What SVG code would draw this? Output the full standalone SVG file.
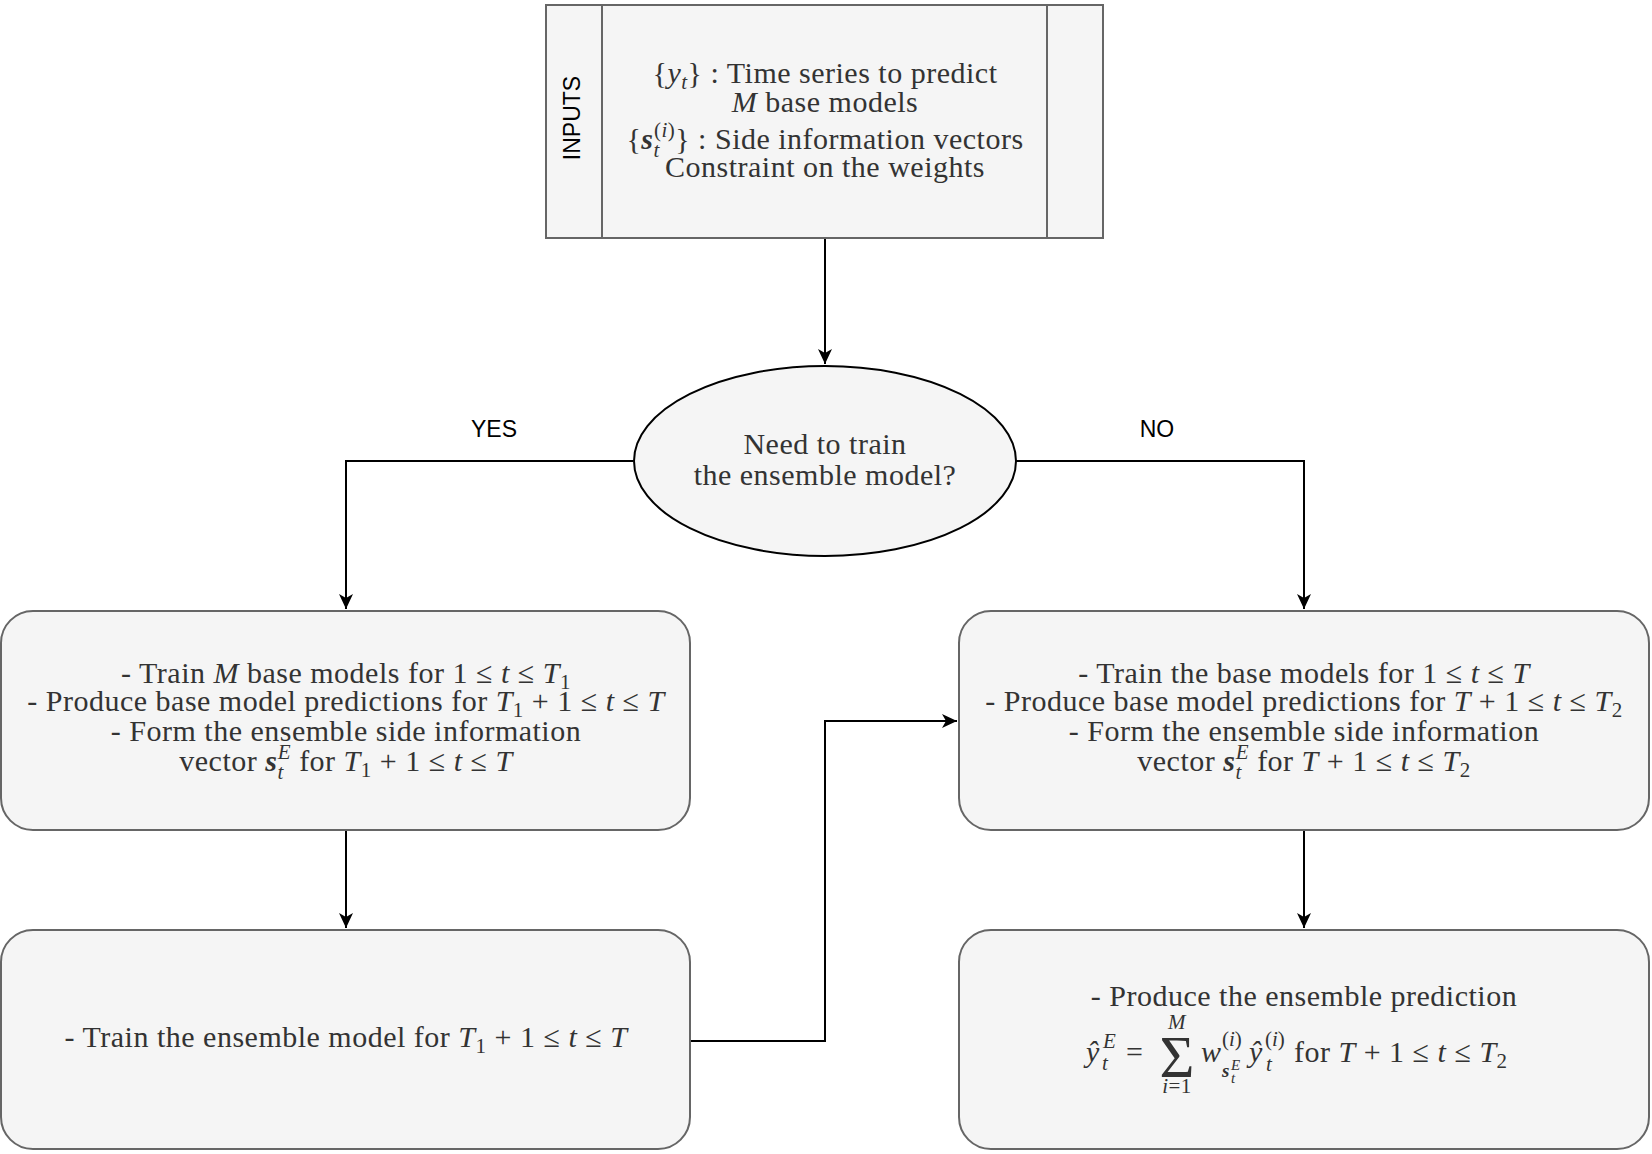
<svg xmlns="http://www.w3.org/2000/svg" width="1652" height="1154" viewBox="0 0 1652 1154">
<style>
.box{fill:#f5f5f5;stroke:#666666;stroke-width:2}
.ell{fill:#f5f5f5;stroke:#000000;stroke-width:2}
.c{fill:none;stroke:#000000;stroke-width:2}
.t{font-family:"Liberation Serif",serif;font-size:30px;fill:#333333;text-anchor:middle;letter-spacing:0.5px}
.st{text-anchor:start;letter-spacing:0}
.l{font-family:"Liberation Sans",sans-serif;font-size:23px;fill:#000000;text-anchor:middle}
.i{font-style:italic}
.b{font-style:italic;font-weight:bold}
.s{font-size:21px}
.ss{font-size:15px}
</style>
<defs>
<marker id="ah" markerUnits="userSpaceOnUse" markerWidth="16" markerHeight="14" refX="15" refY="7" orient="auto">
<path d="M0,0 L15,7 L0,14 L4,7 Z" fill="#000000"/>
</marker>
</defs>
<rect width="1652" height="1154" fill="#ffffff"/>
<g id="connectors">
<path class="c" d="M825,238 L825,364" marker-end="url(#ah)"/>
<path class="c" d="M633,461 L346,461 L346,609" marker-end="url(#ah)"/>
<path class="c" d="M1016,461 L1304,461 L1304,609" marker-end="url(#ah)"/>
<path class="c" d="M346,830 L346,928" marker-end="url(#ah)"/>
<path class="c" d="M1304,830 L1304,928" marker-end="url(#ah)"/>
<path class="c" d="M690,1041 L825,1041 L825,721 L957,721" marker-end="url(#ah)"/>
<text class="l" x="494" y="437">YES</text>
<text class="l" x="1157" y="437">NO</text>
</g>
<g id="inputs">
<rect class="box" x="546" y="5" width="557" height="233"/>
<line class="box" x1="602" y1="5" x2="602" y2="238"/>
<line class="box" x1="1047" y1="5" x2="1047" y2="238"/>
<text class="l" x="0" y="0" transform="translate(580,118) rotate(-90)">INPUTS</text>
<text class="t" x="825" y="83">{<tspan class="i">y</tspan><tspan class="s i" dy="6">t</tspan><tspan dy="-6">} : Time series to predict</tspan></text>
<text class="t" x="825" y="112"><tspan class="i">M</tspan> base models</text>
<text class="t" x="825" y="149">{<tspan class="b">s</tspan><tspan class="s i" dy="8">t</tspan><tspan class="s" dx="-6" dy="-20">(<tspan class="i">i</tspan>)</tspan><tspan dy="12">} : Side information vectors</tspan></text>
<text class="t" x="825" y="177">Constraint on the weights</text>
</g>
<g id="decision">
<ellipse class="ell" cx="825" cy="461" rx="191" ry="95"/>
<text class="t" x="825" y="454">Need to train</text>
<text class="t" x="825" y="485">the ensemble model?</text>
</g>
<g id="train-base-yes">
<rect class="box" x="1" y="611" width="689" height="219" rx="32" ry="32"/>
<text class="t" x="346" y="683">- Train <tspan class="i">M</tspan> base models for 1 ≤ <tspan class="i">t</tspan> ≤ <tspan class="i">T</tspan><tspan class="s" dy="6">1</tspan></text>
<text class="t" x="346" y="711">- Produce base model predictions for <tspan class="i">T</tspan><tspan class="s" dy="6">1</tspan><tspan dy="-6"> + 1 ≤ </tspan><tspan class="i">t</tspan> ≤ <tspan class="i">T</tspan></text>
<text class="t" x="346" y="741">- Form the ensemble side information</text>
<text class="t" x="346" y="771">vector <tspan class="b">s</tspan><tspan class="s i" dy="8">t</tspan><tspan class="s i" dx="-6" dy="-20">E</tspan><tspan dy="12"> for </tspan><tspan class="i">T</tspan><tspan class="s" dy="6">1</tspan><tspan dy="-6"> + 1 ≤ </tspan><tspan class="i">t</tspan> ≤ <tspan class="i">T</tspan></text>
</g>
<g id="train-ensemble">
<rect class="box" x="1" y="930" width="689" height="219" rx="32" ry="32"/>
<text class="t" x="346" y="1047">- Train the ensemble model for <tspan class="i">T</tspan><tspan class="s" dy="6">1</tspan><tspan dy="-6"> + 1 ≤ </tspan><tspan class="i">t</tspan> ≤ <tspan class="i">T</tspan></text>
</g>
<g id="train-base-no">
<rect class="box" x="959" y="611" width="690" height="219" rx="32" ry="32"/>
<text class="t" x="1304" y="683">- Train the base models for 1 ≤ <tspan class="i">t</tspan> ≤ <tspan class="i">T</tspan></text>
<text class="t" x="1304" y="711">- Produce base model predictions for <tspan class="i">T</tspan> + 1 ≤ <tspan class="i">t</tspan> ≤ <tspan class="i">T</tspan><tspan class="s" dy="6">2</tspan></text>
<text class="t" x="1304" y="741">- Form the ensemble side information</text>
<text class="t" x="1304" y="771">vector <tspan class="b">s</tspan><tspan class="s i" dy="8">t</tspan><tspan class="s i" dx="-6" dy="-20">E</tspan><tspan dy="12"> for </tspan><tspan class="i">T</tspan> + 1 ≤ <tspan class="i">t</tspan> ≤ <tspan class="i">T</tspan><tspan class="s" dy="6">2</tspan></text>
</g>
<g id="ensemble-prediction">
<rect class="box" x="959" y="930" width="690" height="219" rx="32" ry="32"/>
<text class="t" x="1304" y="1006">- Produce the ensemble prediction</text>
<text class="t st i" x="1086" y="1062">ŷ</text>
<text class="t st s i" x="1103" y="1048">E</text>
<text class="t st s i" x="1102" y="1070">t</text>
<text class="t st" x="1126" y="1062">=</text>
<text class="t" x="1177" y="1077" style="font-size:60px;letter-spacing:0">Σ</text>
<text class="t s i" x="1177" y="1029">M</text>
<text class="t s" x="1177" y="1093"><tspan class="i">i</tspan>=1</text>
<text class="t st i" x="1201" y="1062">w</text>
<text class="t st s" x="1222" y="1046">(<tspan class="i">i</tspan>)</text>
<text class="t st s b" x="1222" y="1077" style="font-size:19px">s</text>
<text class="t st ss i" x="1231" y="1083">t</text>
<text class="t st ss i" x="1231" y="1070">E</text>
<text class="t st i" x="1249" y="1062">ŷ</text>
<text class="t st s" x="1265" y="1046">(<tspan class="i">i</tspan>)</text>
<text class="t st s i" x="1266" y="1071">t</text>
<text class="t st" x="1294" y="1062" style="letter-spacing:0.5px">for <tspan class="i">T</tspan> + 1 ≤ <tspan class="i">t</tspan> ≤ <tspan class="i">T</tspan><tspan class="s" dy="6">2</tspan></text>
</g>
</svg>
